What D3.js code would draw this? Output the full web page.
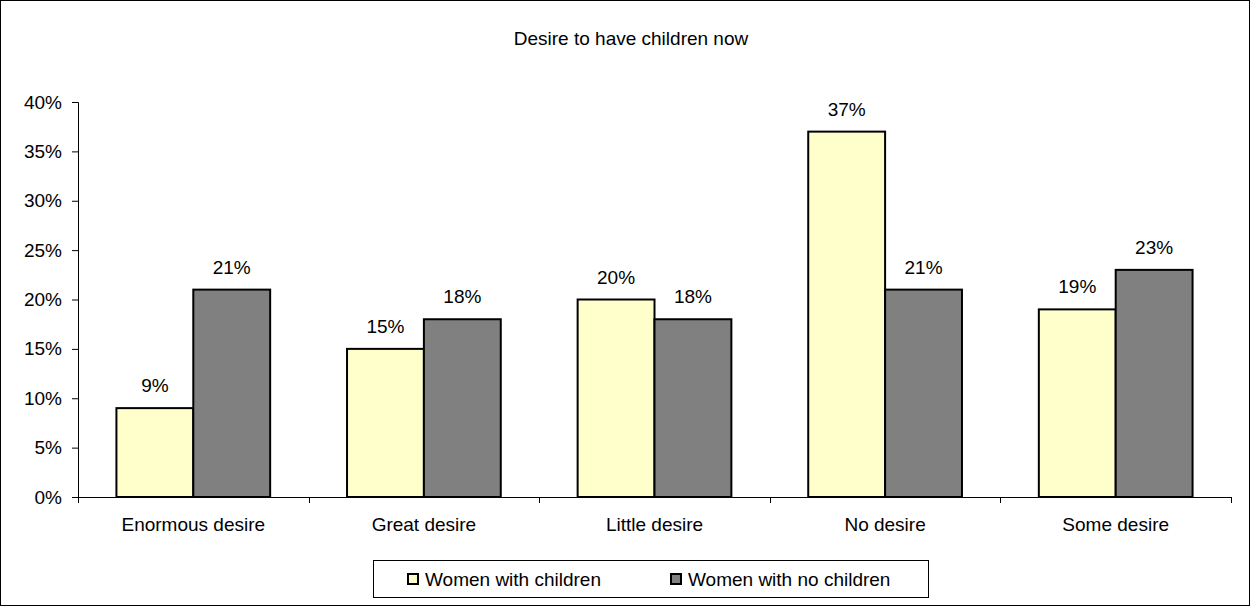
<!DOCTYPE html>
<html>
<head>
<meta charset="utf-8">
<script src="https://cdn.jsdelivr.net/npm/d3@7"></script>
<style>
  html, body { margin: 0; padding: 0; background: #fff; }
  svg { display: block; font-family: "Liberation Sans", Arial, sans-serif; }
</style>
</head>
<body>
<svg id="chart" width="1250" height="606"></svg>
<script>
// Survey responses: desire to have children now
const categories = ["Enormous desire", "Great desire", "Little desire", "No desire", "Some desire"];
const seriesNames = ["Women with children", "Women with no children"];
const withChildren = [9, 15, 20, 37, 19];
const noChildren = [21, 18, 18, 21, 23];
const yTicks = [0, 5, 10, 15, 20, 25, 30, 35, 40];
const colors = ["#FFFFCC", "#808080"];

const svg = d3.select("#chart");
const W = 1250, H = 606;
const FS = 19;

// outer frame
svg.append("rect").attr("x", 0.5).attr("y", 0.5).attr("width", W - 1).attr("height", H - 1)
  .attr("fill", "#fff").attr("stroke", "#000").attr("stroke-width", 1);

svg.append("text").attr("x", 631).attr("y", 45).attr("text-anchor", "middle")
  .attr("font-size", FS).attr("fill", "#000").text("Desire to have children now");

const plotL = 78, plotR = 1231, plotT = 102, plotB = 497;

const x = d3.scaleBand().domain(categories).range([plotL, plotR]).paddingInner(0).paddingOuter(0);
const y = d3.scaleLinear().domain([0, 40]).range([plotB, plotT]);

const series = [withChildren, noChildren];
const barW = x.bandwidth() / 3;

const groups = svg.append("g");
categories.forEach((c, i) => {
  series.forEach((vals, s) => {
    const bx = x(c) + x.bandwidth() / 6 + s * barW;
    groups.append("rect")
      .attr("x", bx).attr("y", y(vals[i]))
      .attr("width", barW).attr("height", y(0) - y(vals[i]))
      .attr("fill", colors[s]).attr("stroke", "#000").attr("stroke-width", 2);
    groups.append("text")
      .attr("x", bx + barW / 2).attr("y", y(vals[i]) - 16)
      .attr("text-anchor", "middle").attr("font-size", FS).attr("fill", "#000")
      .text(vals[i] + "%");
  });
});

// y axis
const yAxis = d3.axisLeft(y).tickValues(yTicks).tickFormat(d => d + "%").tickSize(6).tickPadding(10);
const gy = svg.append("g").attr("transform", `translate(${plotL},0)`).call(yAxis);
gy.select(".domain").attr("stroke", "#000");
gy.selectAll(".tick line").attr("stroke", "#000");
gy.selectAll(".tick text").attr("font-size", FS).attr("fill", "#000")
  .attr("font-family", "Liberation Sans, Arial, sans-serif");

// x axis with ticks at category boundaries
const gx = svg.append("g").attr("transform", `translate(0,${plotB})`);
gx.append("line").attr("x1", plotL).attr("x2", plotR).attr("y1", 0.5).attr("y2", 0.5).attr("stroke", "#000");
const bounds = categories.map(c => x(c)).concat([plotR]);
gx.selectAll("line.tk").data(bounds).enter().append("line").attr("class", "tk")
  .attr("x1", d => Math.round(d) + 0.5).attr("x2", d => Math.round(d) + 0.5)
  .attr("y1", 0).attr("y2", 6).attr("stroke", "#000");
gx.selectAll("text").data(categories).enter().append("text")
  .attr("x", d => x(d) + x.bandwidth() / 2).attr("y", 34)
  .attr("text-anchor", "middle").attr("font-size", FS).attr("fill", "#000").text(d => d);

// legend
const lg = svg.append("g");
lg.append("rect").attr("x", 373.5).attr("y", 560.5).attr("width", 555).attr("height", 37)
  .attr("fill", "#fff").attr("stroke", "#000").attr("stroke-width", 1);
const legendX = [408, 671];
seriesNames.forEach((n, s) => {
  lg.append("rect").attr("x", legendX[s]).attr("y", 574).attr("width", 10).attr("height", 10)
    .attr("fill", colors[s]).attr("stroke", "#000").attr("stroke-width", 2);
  lg.append("text").attr("x", legendX[s] + 17).attr("y", 586).attr("font-size", FS)
    .attr("fill", "#000").text(n);
});
</script>
</body>
</html>
